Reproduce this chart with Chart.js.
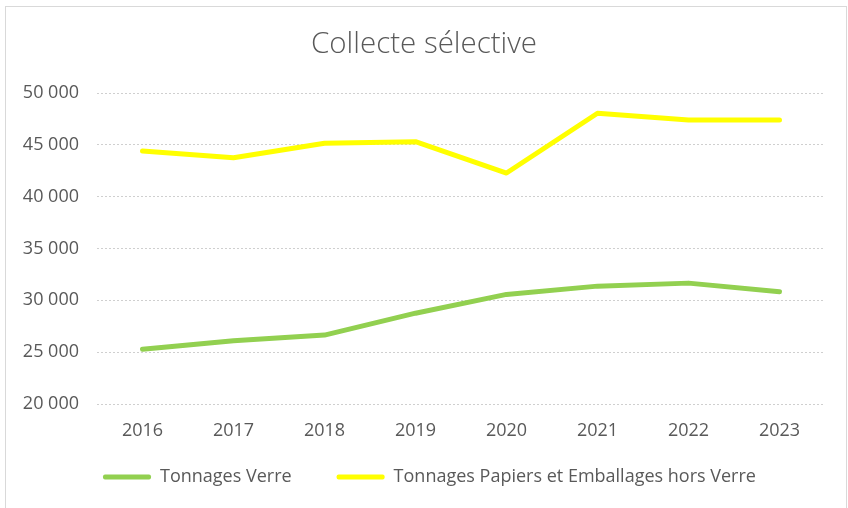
<!DOCTYPE html>
<html>
<head>
<meta charset="utf-8">
<script src="https://cdn.jsdelivr.net/npm/chart.js@4.4.0/dist/chart.umd.min.js"></script>
<style>
  html, body { margin: 0; padding: 0; background: #ffffff; }
  #wrap { width: 848px; height: 508px; }
</style>
</head>
<body>
<div id="wrap"><canvas id="c" width="848" height="508"></canvas></div>
<script>
const categories = ["2016", "2017", "2018", "2019", "2020", "2021", "2022", "2023"];
const verre = [25290, 26110, 26650, 28760, 30570, 31370, 31660, 30830];
const papiers = [44400, 43760, 45150, 45300, 42280, 48050, 47400, 47400];
const seriesNames = ["Tonnages Verre", "Tonnages Papiers et Emballages hors Verre"];
const chartTitle = "Collecte sélective";
const yMin = 20000, yMax = 50000, yStep = 5000;

const textColor = "#595959";
const fontFamily = "'Open Sans', 'Noto Sans', sans-serif";

function fmt(v) {
  return String(v).replace(/\B(?=(\d{3})+(?!\d))/g, " ");
}

const framePlugin = {
  id: "frame",
  beforeDraw(chart) {
    const ctx = chart.ctx;
    ctx.save();
    ctx.fillStyle = "#ffffff";
    ctx.fillRect(0, 0, chart.width, chart.height);
    ctx.strokeStyle = "#d9d9d9";
    ctx.lineWidth = 1;
    ctx.strokeRect(5.5, 6.5, 841, 520);
    ctx.restore();
  },
  afterLayout(chart) {
    const lg = chart.legend;
    if (!lg) return;
    const gap = 45;
    try { lg.options.labels.padding = gap; } catch (e) {}
    lg.top = 477 - gap - 9;
    lg.bottom = chart.height;
    lg.left = 103 - gap;
    lg.right = chart.width;
  }
};

new Chart(document.getElementById("c"), {
  type: "line",
  data: {
    labels: categories,
    datasets: [
      {
        label: seriesNames[0],
        data: verre,
        borderColor: "#92D050",
        backgroundColor: "#92D050",
        borderWidth: 5,
        pointRadius: 0,
        tension: 0,
        borderJoinStyle: "round",
        borderCapStyle: "round"
      },
      {
        label: seriesNames[1],
        data: papiers,
        borderColor: "#FFFF00",
        backgroundColor: "#FFFF00",
        borderWidth: 5,
        pointRadius: 0,
        tension: 0,
        borderJoinStyle: "round",
        borderCapStyle: "round"
      }
    ]
  },
  options: {
    responsive: false,
    animation: false,
    devicePixelRatio: 1,
    layout: { padding: { left: 23, right: 23, top: 10, bottom: 16 } },
    plugins: {
      title: {
        display: true,
        text: chartTitle,
        color: textColor,
        font: { family: fontFamily, size: 29.5, weight: "300" },
        padding: { top: 17.3, bottom: 30.3 }
      },
      legend: {
        display: true,
        position: "bottom",
        align: "start",
        labels: {
          color: textColor,
          font: { family: fontFamily, size: 18 },
          boxWidth: 48,
          boxHeight: 5,
          padding: 10,
          generateLabels(chart) {
            return chart.data.datasets.map((ds, i) => ({
              text: ds.label,
              fillStyle: ds.borderColor,
              strokeStyle: ds.borderColor,
              lineWidth: 0,
              borderRadius: 2,
              fontColor: textColor,
              hidden: !chart.isDatasetVisible(i),
              datasetIndex: i
            }));
          }
        }
      },
      tooltip: { enabled: false }
    },
    scales: {
      x: {
        offset: true,
        grid: { display: false, drawTicks: false },
        border: { display: false },
        ticks: {
          color: textColor,
          font: { family: fontFamily, size: 18 },
          padding: 16,
          maxRotation: 0
        },
        afterFit(scale) { scale.height = 50; }
      },
      y: {
        min: yMin,
        max: yMax,
        grid: { color: "#cfcfcf", lineWidth: 1, drawTicks: false },
        border: { display: false, dash: [2, 2] },
        ticks: {
          stepSize: yStep,
          color: textColor,
          font: { family: fontFamily, size: 18 },
          padding: 18,
          callback: (v) => fmt(v)
        },
        afterFit(scale) { scale.width = 74; }
      }
    }
  },
  plugins: [framePlugin]
});
</script>
</body>
</html>
